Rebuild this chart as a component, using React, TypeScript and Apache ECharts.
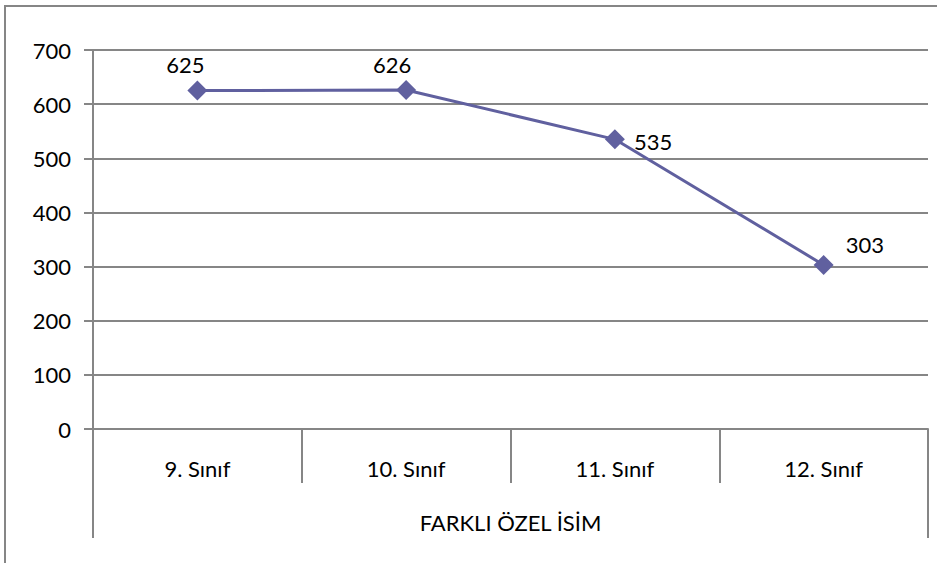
import React, { useEffect, useRef } from "react";
import * as echarts from "echarts";

const categories = ["9. Sınıf", "10. Sınıf", "11. Sınıf", "12. Sınıf"];
const groupLabel = ["FARKLI ÖZEL İSİM"];
const values = [625, 626, 535, 303];
const yTicks = { min: 0, max: 700, interval: 100 };

const FONT = "Lato, 'Open Sans', sans-serif";
const FS = 22;
const GRAY = "#868686";
const LINE = "#60609F";

const labelStyles: any[] = [
  { position: "top", distance: 5, offset: [-12, 0] },
  { position: "top", distance: 5, offset: [-14, 0] },
  { position: "right", distance: 9, offset: [0, 2] },
  { position: "right", distance: 12, offset: [0, -20] },
];

export default function App() {
  const ref = useRef<HTMLDivElement>(null);
  useEffect(() => {
    document.body.style.margin = "0";
    const chart = echarts.init(ref.current!, null, { renderer: "svg" });
    chart.setOption({
      animation: false,
      backgroundColor: "#ffffff",
      textStyle: { fontFamily: FONT },
      graphic: [
        {
          type: "rect",
          shape: { x: 5, y: 6, width: 1200, height: 1200 },
          style: { fill: "none", stroke: GRAY, lineWidth: 2 },
          silent: true,
        },
      ],
      grid: { left: 93, right: 9, top: 50, bottom: 134, containLabel: false },
      xAxis: [
        {
          type: "category",
          data: categories,
          boundaryGap: true,
          axisLine: { show: true, lineStyle: { color: GRAY, width: 2 } },
          axisTick: { show: true, interval: 0, length: 54, lineStyle: { color: GRAY, width: 2 } },
          axisLabel: { margin: 28, fontSize: FS, color: "#000", fontFamily: FONT },
          splitLine: { show: false },
        },
        {
          type: "category",
          data: groupLabel,
          position: "bottom",
          boundaryGap: true,
          axisLine: { show: false },
          axisTick: { show: true, interval: 0, length: 109, lineStyle: { color: GRAY, width: 2 } },
          axisLabel: { margin: 82, fontSize: FS, color: "#000", fontFamily: FONT },
          splitLine: { show: false },
        },
      ],
      yAxis: {
        type: "value",
        min: yTicks.min,
        max: yTicks.max,
        interval: yTicks.interval,
        axisLine: { show: true, lineStyle: { color: GRAY, width: 2 } },
        axisTick: { show: true, length: 9, lineStyle: { color: GRAY, width: 2 } },
        axisLabel: { margin: 22, fontSize: FS, color: "#000", fontFamily: FONT },
        splitLine: { show: true, lineStyle: { color: GRAY, width: 2 } },
      },
      series: [
        {
          type: "line",
          xAxisIndex: 0,
          data: values.map((v, i) => ({ value: v, label: labelStyles[i] })),
          symbol: "diamond",
          symbolSize: 20,
          lineStyle: { color: LINE, width: 3 },
          itemStyle: { color: LINE },
          label: { show: true, fontSize: FS, color: "#000", fontFamily: FONT },
        },
      ],
    });
    return () => chart.dispose();
  }, []);
  return <div ref={ref} style={{ width: 937, height: 563 }} />;
}
